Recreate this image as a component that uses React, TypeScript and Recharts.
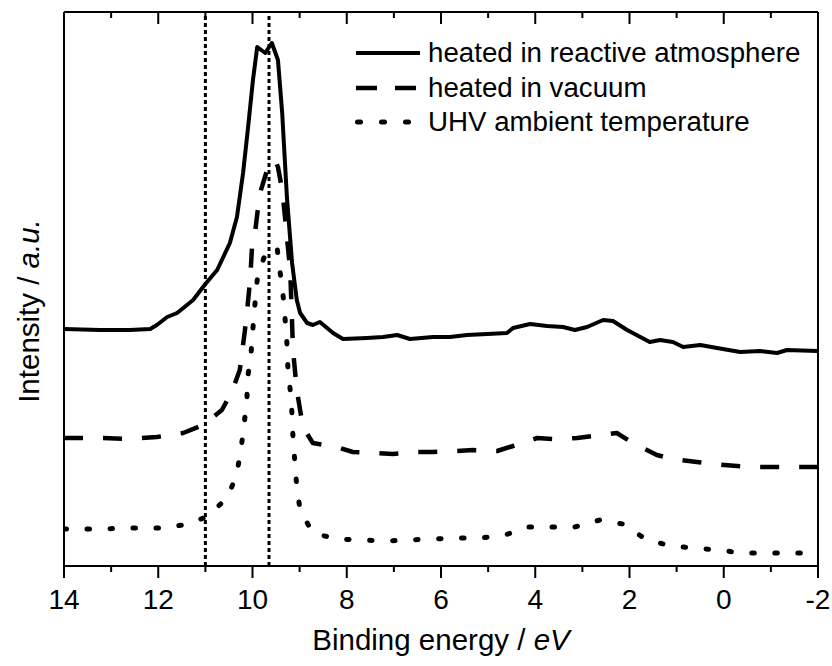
import React from 'react';
import { LineChart, Line, XAxis, YAxis, ReferenceLine, Legend, Label } from 'recharts';

const FONT = '"Liberation Sans", Arial, Helvetica, sans-serif';

// Binding-energy axis ticks (eV); every integer gets a tick, even ones get a label
const energyTicks = [14, 13, 12, 11, 10, 9, 8, 7, 6, 5, 4, 3, 2, 1, 0, -1, -2];

// Guide lines marking the two features of the main peak (eV)
const markerEnergies = [11, 9.65];

// Heated in reactive atmosphere
const reactiveEnergy = [
  14.0, 13.24, 12.6, 12.17, 12.03, 11.81, 11.6, 11.39, 11.26, 11.0, 10.75, 10.48, 10.33, 10.2,
  10.1, 9.99, 9.9, 9.73, 9.59, 9.46, 9.37, 9.27, 9.16, 9.06, 8.99, 8.84, 8.72, 8.57, 8.29, 8.08,
  7.57, 7.23, 6.93, 6.66, 6.17, 5.81, 5.45, 5.02, 4.6, 4.47, 4.11, 3.75, 3.41, 3.16, 2.9, 2.56,
  2.35, 2.05, 1.57, 1.35, 1.08, 0.86, 0.5, 0.02, -0.35, -0.77, -1.13, -1.34, -1.98,
];
const reactiveIntensity = [
  237, 236, 236, 237, 241, 249, 253, 261, 266, 282, 296, 323, 349, 393,
  436, 486, 519, 513, 523, 506, 453, 369, 303, 266, 253, 243, 241, 244, 233, 227,
  228, 229, 231, 227, 229, 229, 231, 232, 233, 238, 242, 240, 239, 236, 239, 246,
  245, 236, 224, 226, 224, 219, 221, 217, 214, 215, 213, 216, 215,
];

// Heated in vacuum
const vacuumEnergy = [
  14.0, 13.24, 12.6, 12.03, 11.47, 11.05, 10.65, 10.44, 10.27, 10.22, 10.16, 10.12, 10.05,
  10.01, 9.94, 9.88, 9.84, 9.67, 9.52, 9.46, 9.37, 9.31, 9.27, 9.2, 9.14, 9.06, 8.93, 8.72,
  8.21, 7.87, 7.36, 7.02, 6.51, 6.17, 5.66, 5.32, 4.81, 4.47, 3.96, 3.62, 3.11, 2.77, 2.27,
  1.93, 1.42, 1.08, 0.57, 0.23, -0.28, -0.62, -1.13, -1.98,
];
const vacuumIntensity = [
  128, 128, 127, 129, 133, 141, 156, 174, 196, 214, 236, 253, 286,
  319, 336, 359, 373, 399, 406, 399, 376, 349, 329, 296, 216, 176, 139, 123,
  119, 114, 113, 112, 114, 114, 115, 116, 115, 120, 128, 127, 128, 130, 133,
  123, 111, 107, 104, 102, 100, 99, 99, 99,
];

// UHV ambient temperature
const uhvEnergy = [
  14.0, 13.24, 12.6, 11.96, 11.47, 10.97, 10.52, 10.33, 10.24, 10.18, 10.12, 10.1, 10.03,
  9.99, 9.95, 9.9, 9.76, 9.63, 9.48, 9.42, 9.35, 9.31, 9.27, 9.25, 9.2, 9.16, 9.14, 9.1,
  9.06, 8.99, 8.72, 8.21, 7.68, 7.19, 6.7, 6.17, 5.66, 5.17, 4.64, 4.15, 3.64, 3.16, 2.63,
  2.14, 1.63, 1.1, 0.61, 0.12, -0.39, -0.88, -1.41, -1.94,
];
const uhvIntensity = [
  37, 37, 38, 38, 41, 49, 69, 93, 118, 141, 166, 189, 213,
  238, 261, 286, 308, 316, 319, 296, 270, 248, 223, 199, 176, 151, 128, 103,
  79, 56, 33, 27, 26, 25, 26, 27, 28, 28, 31, 39, 39, 39, 46,
  42, 26, 20, 18, 16, 13, 13, 13, 13,
];

const toPoints = (energy: number[], intensity: number[]) =>
  energy.map((e, k) => ({ e, i: intensity[k] }));

const series = [
  {
    name: 'heated in reactive atmosphere',
    data: toPoints(reactiveEnergy, reactiveIntensity),
    width: 4,
    dash: undefined as string | undefined,
    cap: 'butt' as const,
    sample: { x1: 2, x2: 66, dash: undefined as string | undefined, cap: 'butt' as const, width: 4 },
  },
  {
    name: 'heated in vacuum',
    data: toPoints(vacuumEnergy, vacuumIntensity),
    width: 4.5,
    dash: '19 20',
    cap: 'butt' as const,
    sample: { x1: 2, x2: 64, dash: '21 18', cap: 'butt' as const, width: 4.5 },
  },
  {
    name: 'UHV ambient temperature',
    data: toPoints(uhvEnergy, uhvIntensity),
    width: 5,
    dash: '2.5 20.5',
    cap: 'round' as const,
    sample: { x1: 3.5, x2: 56, dash: '3 21', cap: 'round' as const, width: 5 },
  },
];

// Tick marks: major (even eV) 12px, minor 6px; bottom ones point out, top ones point in
const BottomTick = (props: any) => {
  const x = Number(props.x);
  const y = Number(props.y);
  const v = Number(props.payload?.value);
  const major = v % 2 === 0;
  return (
    <g>
      <rect x={x - 1} y={y} width={2} height={major ? 12 : 6} fill="#000" />
      {major && (
        <text x={x} y={y + 43} textAnchor="middle" fontSize={28} fontFamily={FONT} fill="#000">
          {String(v)}
        </text>
      )}
    </g>
  );
};

const TopTick = (props: any) => {
  const x = Number(props.x);
  const y = Number(props.y);
  const major = Number(props.payload?.value) % 2 === 0;
  return <rect x={x - 1} y={y} width={2} height={major ? 12 : 6} fill="#000" />;
};

const XTitle = (props: any) => {
  const vb = props.viewBox || { x: 64, y: 566, width: 754, height: 30 };
  return (
    <text x={vb.x + vb.width / 2} y={vb.y + 84} textAnchor="middle" fontSize={29.5} fontFamily={FONT} fill="#000">
      Binding energy / <tspan fontStyle="italic">eV</tspan>
    </text>
  );
};

const YTitle = (props: any) => {
  const vb = props.viewBox || { x: 63, y: 12, width: 1, height: 554 };
  const cx = vb.x + vb.width - 25;
  const cy = vb.y + vb.height / 2 + 22;
  return (
    <text
      x={cx}
      y={cy}
      transform={`rotate(-90 ${cx} ${cy})`}
      textAnchor="middle"
      fontSize={29.5}
      fontFamily={FONT}
      fill="#000"
    >
      Intensity / <tspan fontStyle="italic">a.u.</tspan>
    </text>
  );
};

const LegendBox = () => (
  <div style={{ fontFamily: FONT, fontSize: 27.7, color: '#000', lineHeight: '34.5px' }}>
    {series.map((s) => (
      <div key={s.name} style={{ display: 'flex', alignItems: 'center', height: 34.5, whiteSpace: 'nowrap' }}>
        <svg width={74} height={20} style={{ display: 'block', flex: 'none' }}>
          <line
            x1={s.sample.x1}
            x2={s.sample.x2}
            y1={10}
            y2={10}
            stroke="#000"
            strokeWidth={s.sample.width}
            strokeDasharray={s.sample.dash}
            strokeLinecap={s.sample.cap}
          />
        </svg>
        <span>{s.name}</span>
      </div>
    ))}
  </div>
);

export default function App() {
  return (
    <div style={{ position: 'absolute', left: 0, top: 0, width: 832, height: 666, background: '#fff' }}>
      <LineChart width={832} height={666} margin={{ top: 11, right: 13, bottom: 70, left: 63 }}>
        <XAxis
          xAxisId="bottom"
          dataKey="e"
          type="number"
          domain={[-2, 14]}
          reversed
          ticks={energyTicks}
          interval={0}
          height={30}
          tickSize={0}
          tickMargin={0}
          tickLine={false}
          tick={<BottomTick />}
          axisLine={{ stroke: '#000', strokeWidth: 2 }}
          allowDataOverflow
        >
          <Label content={<XTitle />} />
        </XAxis>
        <XAxis
          xAxisId="top"
          orientation="top"
          dataKey="e"
          type="number"
          domain={[-2, 14]}
          reversed
          ticks={energyTicks}
          interval={0}
          height={1}
          tickSize={0}
          tickMargin={0}
          tickLine={false}
          tick={<TopTick />}
          axisLine={{ stroke: '#000', strokeWidth: 2 }}
          allowDataOverflow
        />
        <YAxis
          yAxisId="left"
          type="number"
          domain={[0, 554]}
          width={1}
          tick={false}
          tickLine={false}
          axisLine={{ stroke: '#000', strokeWidth: 2 }}
          allowDataOverflow
        >
          <Label content={<YTitle />} />
        </YAxis>
        <YAxis
          yAxisId="right"
          orientation="right"
          type="number"
          domain={[0, 554]}
          width={1}
          tick={false}
          tickLine={false}
          axisLine={{ stroke: '#000', strokeWidth: 2 }}
        />
        {markerEnergies.map((m) => (
          <ReferenceLine
            key={m}
            x={m}
            xAxisId="bottom"
            yAxisId="left"
            stroke="#000"
            strokeWidth={3}
            strokeDasharray="4 3"
          />
        ))}
        {series.map((s) => (
          <Line
            key={s.name}
            name={s.name}
            data={s.data}
            dataKey="i"
            xAxisId="bottom"
            yAxisId="left"
            type="linear"
            stroke="#000"
            strokeWidth={s.width}
            strokeDasharray={s.dash}
            strokeLinecap={s.cap}
            strokeLinejoin="round"
            dot={false}
            activeDot={false}
            isAnimationActive={false}
          />
        ))}
        <Legend
          layout="vertical"
          align="center"
          verticalAlign="middle"
          content={<LegendBox />}
          wrapperStyle={{ position: 'absolute', left: 354, top: 36, width: 470, height: 104 }}
        />
      </LineChart>
    </div>
  );
}
